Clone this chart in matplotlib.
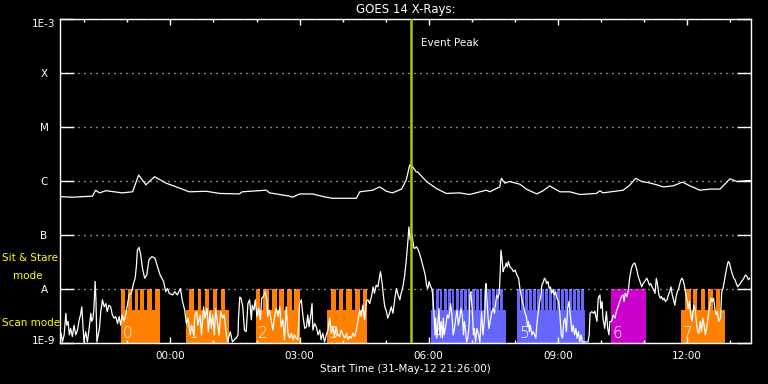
import matplotlib.pyplot as plt
import numpy as np
from matplotlib.ticker import MultipleLocator, FuncFormatter, NullLocator
from matplotlib.transforms import ScaledTranslation

# time axis: hours from 01-Jun-12 00:00, plot starts 31-May-12 21:26
t_start = -(2 + 34 / 60)
t_end = 13.49

# GOES 14 long channel (1-8 A), log10 flux W/m^2
long_t = [-2.57, -2.28, -1.81, -1.74, -1.65, -1.50, -1.12, -0.88, -0.74, -0.57,
          -0.37, -0.10, 0.44, 0.83, 1.14, 1.60, 1.67, 2.23, 2.30, 2.77,
          2.84, 3.00, 3.30, 3.62, 3.77, 4.32, 4.40, 4.70, 4.86, 5.02,
          5.16, 5.37, 5.48, 5.56, 5.63, 5.71, 5.74, 5.95, 6.18, 6.41,
          6.72, 6.95, 7.34, 7.42, 7.65, 7.69, 7.77, 7.88, 8.12, 8.27,
          8.51, 8.66, 8.81, 9.05, 9.28, 9.51, 9.90, 9.98, 10.05, 10.52,
          10.67, 10.81, 10.95, 11.10, 11.30, 11.45, 11.68, 11.90, 12.07, 12.30,
          12.54, 12.77, 13.00, 13.16, 13.47]
long_logflux = [-6.29, -6.30, -6.28, -6.17, -6.22, -6.18, -6.22, -6.20, -5.89, -6.07,
                -5.92, -6.04, -6.20, -6.19, -6.23, -6.24, -6.20, -6.17, -6.22, -6.28,
                -6.30, -6.24, -6.24, -6.30, -6.32, -6.32, -6.20, -6.17, -6.11, -6.19,
                -6.22, -6.15, -5.98, -5.70, -5.74, -5.83, -5.83, -6.01, -6.14, -6.23,
                -6.22, -6.25, -6.17, -6.20, -6.11, -5.95, -6.04, -6.01, -6.06, -6.15,
                -6.24, -6.18, -6.09, -6.20, -6.20, -6.25, -6.23, -6.18, -6.22, -6.17,
                -6.08, -5.95, -6.01, -6.03, -6.07, -6.11, -6.09, -6.02, -6.09, -6.17,
                -6.15, -6.15, -5.96, -6.01, -5.99]

# GOES 14 short channel (0.5-4 A), log10 flux W/m^2
short_t = [
    -2.57, -2.54, -2.51, -2.47, -2.43, -2.41, -2.38, -2.35, -2.32, -2.28,
    -2.24, -2.20, -2.16, -2.12, -2.09, -2.06, -2.04, -2.01, -1.97, -1.93,
    -1.89, -1.85, -1.83, -1.80, -1.78, -1.75, -1.73, -1.71, -1.68, -1.65,
    -1.62, -1.58, -1.54, -1.50, -1.47, -1.43, -1.39, -1.35, -1.31, -1.27,
    -1.23, -1.19, -1.16, -1.12, -1.08, -1.04, -0.96, -0.91, -0.86, -0.82,
    -0.79, -0.77, -0.73, -0.69, -0.65, -0.60, -0.55, -0.50, -0.43, -0.36,
    -0.30, -0.24, -0.16, -0.11, -0.07, -0.03, 0.05, 0.10, 0.16, 0.23,
    0.28, 0.33, 0.37, 0.41, 0.46, 0.49, 0.54, 0.57, 0.61, 0.64,
    0.69, 0.72, 0.77, 0.80, 0.85, 0.88, 0.92, 0.95, 0.98, 1.02,
    1.05, 1.09, 1.13, 1.17, 1.21, 1.25, 1.29, 1.33, 1.39, 1.44,
    1.52,
    1.53, 1.57, 1.58, 1.61, 1.64, 1.68, 1.72, 1.76, 1.80, 1.84,
    1.88, 1.90, 1.94, 1.97, 2.01, 2.05, 2.09, 2.12, 2.16, 2.20,
    2.24, 2.26, 2.30, 2.34, 2.38, 2.42, 2.46, 2.50, 2.54, 2.57,
    2.61, 2.65, 2.69, 2.73, 2.77, 2.81, 2.85, 2.88, 2.92, 2.96,
    3.00, 3.04, 3.08, 3.12, 3.16, 3.19, 3.22, 3.26, 3.29, 3.31,
    3.35, 3.39, 3.43, 3.47, 3.50, 3.54, 3.58, 3.62, 3.66, 3.70,
    3.74, 3.78, 3.81, 3.85, 3.89, 3.93, 3.97, 4.01, 4.05, 4.09,
    4.12, 4.16, 4.20, 4.24, 4.28, 4.32, 4.36, 4.40, 4.43, 4.47,
    4.51, 4.55, 4.59, 4.63, 4.67, 4.71, 4.74, 4.78, 4.82, 4.86,
    4.88, 4.92, 4.95, 4.98, 5.02, 5.05, 5.09, 5.13, 5.17, 5.21,
    5.25, 5.29, 5.33, 5.36, 5.40, 5.44, 5.48, 5.52, 5.54, 5.57,
    5.61, 5.65,
    5.67, 5.72, 5.76, 5.82, 5.88, 5.92, 5.95, 5.98, 6.01, 6.03,
    6.07, 6.09, 6.12, 6.15, 6.16, 6.19, 6.21, 6.24, 6.26, 6.29,
    6.32, 6.34, 6.36, 6.40, 6.43, 6.46, 6.49, 6.51, 6.54, 6.57,
    6.60, 6.63, 6.66, 6.69, 6.72, 6.75, 6.78, 6.81, 6.83, 6.86,
    6.88, 6.91, 6.94, 6.96, 6.98, 7.02, 7.04, 7.06, 7.09, 7.12,
    7.16, 7.19, 7.23, 7.26, 7.30, 7.33, 7.35, 7.37, 7.40, 7.43,
    7.47, 7.50, 7.53, 7.56, 7.58, 7.61, 7.64, 7.66, 7.68, 7.71,
    7.73, 7.75, 7.78, 7.80, 7.83, 7.85, 7.89, 7.93, 7.97, 8.01,
    8.05, 8.09, 8.12, 8.16, 8.20, 8.24, 8.27, 8.30, 8.32, 8.34,
    8.36, 8.40, 8.43, 8.46, 8.49, 8.52, 8.55, 8.58, 8.61, 8.63,
    8.67, 8.69, 8.72, 8.74, 8.77, 8.80, 8.83, 8.86, 8.89, 8.92,
    8.95, 8.98, 9.02, 9.05, 9.08, 9.11, 9.14, 9.17, 9.20, 9.23,
    9.26, 9.30, 9.33, 9.36, 9.39, 9.42, 9.45, 9.48, 9.51, 9.54,
    9.57, 9.64, 9.70, 9.73, 9.75, 9.79,
    9.84, 9.86, 9.91, 9.94, 9.98, 10.00, 10.03, 10.05, 10.09, 10.13,
    10.16, 10.19, 10.21, 10.25, 10.29, 10.33, 10.36, 10.40, 10.44, 10.48,
    10.52, 10.54, 10.57, 10.61, 10.64, 10.67, 10.71, 10.75, 10.79, 10.83,
    10.87, 10.91, 10.95, 10.98, 11.02, 11.07, 11.10, 11.13, 11.16, 11.19,
    11.23, 11.26, 11.29, 11.32, 11.35, 11.38, 11.41, 11.44, 11.47, 11.50,
    11.54, 11.57, 11.60, 11.63, 11.66, 11.69, 11.72, 11.75, 11.78, 11.81,
    11.85, 11.88, 11.91, 11.94, 11.97, 12.00, 12.03, 12.06, 12.09, 12.12,
    12.16, 12.19, 12.22, 12.25, 12.28, 12.31, 12.34, 12.37, 12.40, 12.43,
    12.47, 12.50, 12.53, 12.56, 12.59, 12.62, 12.65, 12.68, 12.71, 12.74,
    12.78, 12.81, 12.84, 12.87, 12.90, 12.93, 12.96, 12.99, 13.02, 13.05,
    13.09, 13.12, 13.15, 13.18, 13.21, 13.24, 13.27, 13.30, 13.33, 13.36,
    13.40, 13.43, 13.46]
short_logflux = [
    -8.98, -8.82, -8.98, -8.85, -8.45, -8.67, -8.60, -8.85, -8.73, -8.88,
    -8.67, -8.85, -8.76, -8.57, -8.48, -8.33, -8.60, -8.98, -8.79, -8.98,
    -8.73, -8.45, -8.60, -8.54, -8.39, -7.86, -8.23, -8.98, -8.85, -8.73,
    -8.42, -8.20, -8.33, -8.27, -8.42, -8.30, -8.33, -8.48, -8.54, -8.51,
    -8.64, -8.51, -8.67, -8.48, -8.60, -8.48, -8.11, -8.08, -7.90, -7.80,
    -7.56, -7.28, -7.23, -7.37, -7.62, -7.80, -7.74, -7.46, -7.40, -7.43,
    -7.59, -7.74, -7.86, -8.05, -7.99, -8.08, -8.11, -8.05, -8.11, -7.99,
    -8.23, -8.39, -8.64, -8.54, -8.85, -8.67, -8.85, -8.48, -8.42, -8.67,
    -8.48, -8.85, -8.33, -8.54, -8.36, -8.79, -8.42, -8.73, -8.48, -8.85,
    -8.36, -8.60, -8.85, -8.42, -8.54, -8.48, -8.79, -8.98, -8.79, -8.98,
    -8.91,
    -8.91, -8.85, -8.57, -8.15, -8.17, -8.33, -8.76, -8.79, -8.27, -8.20,
    -8.57, -8.30, -8.39, -8.20, -8.51, -8.36, -8.57, -8.17, -8.14, -8.05,
    -8.20, -8.51, -8.39, -8.57, -8.76, -8.51, -8.36, -8.51, -8.33, -8.70,
    -8.57, -8.94, -8.33, -8.82, -8.91, -8.82, -8.94, -8.85, -8.91, -8.94,
    -8.27, -8.20, -8.51, -8.73, -8.70, -8.48, -8.70, -8.48, -8.27, -8.76,
    -8.64, -8.70, -8.85, -8.76, -8.94, -8.82, -8.98, -8.85, -8.76, -8.54,
    -8.82, -8.70, -8.88, -8.70, -8.85, -8.88, -8.76, -8.85, -8.91, -8.82,
    -8.94, -8.88, -8.91, -8.82, -8.88, -8.76, -8.57, -8.39, -8.51, -8.30,
    -8.57, -8.23, -8.20, -8.27, -8.14, -7.96, -8.08, -7.93, -7.96, -7.77,
    -7.68, -7.90, -8.14, -8.33, -8.42, -8.54, -8.45, -8.33, -8.45, -8.20,
    -7.99, -8.11, -8.20, -8.08, -7.96, -7.77, -7.46, -7.09, -6.85, -7.09,
    -6.97, -7.22,
    -7.25, -7.22, -7.28, -7.43, -7.62, -7.74, -7.93, -7.99, -7.86, -7.93,
    -7.99, -8.08, -8.42, -8.85, -8.54, -8.91, -8.67, -8.36, -8.85, -8.60,
    -8.91, -8.54, -8.85, -8.67, -8.48, -8.54, -8.42, -8.27, -8.48, -8.85,
    -8.73, -8.54, -8.39, -8.67, -8.54, -8.36, -8.48, -8.85, -8.60, -8.79,
    -8.98, -8.91, -8.67, -8.11, -8.05, -8.48, -8.85, -8.73, -8.98, -8.73,
    -8.85, -8.98, -8.42, -8.85, -8.54, -7.90, -8.05, -8.42, -8.73, -8.60,
    -8.42, -8.36, -8.45, -8.23, -8.11, -8.17, -8.08, -7.74, -7.28, -7.49,
    -7.68, -7.62, -7.59, -7.52, -7.59, -7.49, -7.59, -7.62, -7.68, -7.65,
    -7.74, -7.80, -7.99, -8.17, -8.30, -8.45, -8.51, -8.70, -8.60, -8.79,
    -8.67, -8.85, -8.79, -8.85, -8.91, -8.60, -8.42, -8.23, -8.11, -7.93,
    -7.86, -7.80, -7.83, -7.90, -7.86, -7.99, -7.96, -8.08, -8.02, -8.11,
    -8.05, -8.17, -8.23, -8.48, -8.85, -8.91, -8.60, -8.54, -8.79, -8.36,
    -8.23, -8.54, -8.79, -8.67, -8.85, -8.73, -8.91, -8.79, -8.98, -8.85,
    -8.98, -8.98, -8.98, -8.85, -8.45, -8.42,
    -8.45, -8.41, -8.60, -8.17, -8.11, -8.36, -8.23, -8.54, -8.73, -8.42,
    -8.73, -8.85, -8.60, -8.60, -8.48, -8.54, -8.42, -8.33, -8.23, -8.14,
    -8.11, -8.23, -8.08, -8.14, -8.02, -7.80, -7.62, -7.54, -7.52, -7.62,
    -7.77, -7.86, -7.96, -7.90, -7.86, -7.80, -7.86, -7.93, -7.90, -7.96,
    -8.02, -8.08, -7.80, -7.93, -8.11, -8.17, -8.14, -8.20, -8.17, -8.23,
    -8.20, -8.11, -8.05, -7.96, -8.11, -8.20, -8.30, -8.14, -8.05, -7.99,
    -7.86, -7.80, -7.83, -7.93, -8.08, -8.20, -8.36, -8.23, -8.48, -8.60,
    -8.30, -8.36, -8.60, -8.79, -8.82, -8.60, -8.79, -8.54, -8.67, -8.85,
    -8.67, -8.48, -8.30, -8.17, -8.23, -8.17, -8.36, -8.48, -8.42, -8.60,
    -8.54, -8.05, -7.99, -7.86, -7.71, -7.59, -7.49, -7.52, -7.62, -7.71,
    -7.80, -7.83, -7.90, -7.96, -7.93, -7.90, -7.86, -7.83, -7.79, -7.74,
    -7.77, -7.83, -7.80]

event_peak = 5.58

# observing blocks: scan window plus sit & stare rasters inside it
orange, blue, magenta = '#ff8000', '#6666ff', '#cc00cc'
block_labels = ['0', '1', '2', '3', '4', '5', '6', '7']
block_colors = [orange, orange, orange, orange, blue, blue, magenta, orange]
block_start = [-1.16, 0.36, 1.98, 3.63, 6.05, 8.05, 10.23, 11.86]
block_end = [-0.24, 1.37, 3.00, 4.56, 7.79, 9.63, 11.05, 12.88]
stare_windows = [
    [(-1.16, -1.05), (-0.98, -0.89), (-0.83, -0.75), (-0.71, -0.61), (-0.55, -0.44), (-0.36, -0.24)],
    [(0.44, 0.55), (0.63, 0.72), (0.80, 0.90), (0.98, 1.08), (1.17, 1.27)],
    [(1.98, 2.09), (2.16, 2.28), (2.35, 2.47), (2.53, 2.64), (2.71, 2.82), (2.88, 3.00)],
    [(3.72, 3.84), (3.91, 4.02), (4.09, 4.21), (4.28, 4.40), (4.47, 4.56)],
    [(6.07, 6.13), (6.16, 6.23), (6.26, 6.32), (6.35, 6.42), (6.44, 6.51), (6.54, 6.60),
     (6.63, 6.70), (6.72, 6.79), (6.81, 6.88), (6.91, 6.97), (7.00, 7.07), (7.09, 7.16),
     (7.19, 7.25), (7.28, 7.35), (7.37, 7.44), (7.47, 7.53), (7.56, 7.63), (7.65, 7.72)],
    [(8.05, 8.12), (8.15, 8.21), (8.24, 8.31), (8.33, 8.40), (8.43, 8.49), (8.52, 8.58),
     (8.61, 8.68), (8.70, 8.77), (8.80, 8.86), (8.89, 8.96), (8.98, 9.05), (9.08, 9.14),
     (9.17, 9.24), (9.26, 9.33), (9.36, 9.42), (9.45, 9.52), (9.54, 9.61)],
    [(10.23, 11.05)],
    [(11.95, 12.09), (12.15, 12.24), (12.32, 12.41), (12.49, 12.60), (12.67, 12.78)],
]
floor, scan_top, stare_top = 1e-9, 4.1e-9, 1e-8

fig = plt.figure(figsize=(7.68, 3.84), dpi=100, facecolor='black')
ax = fig.add_axes([60 / 768, 41 / 384, 691 / 768, 324 / 384], facecolor='black')

for lab, col, s, e, wins in zip(block_labels, block_colors, block_start, block_end, stare_windows):
    ax.bar(s, scan_top - floor, width=e - s, bottom=floor, align='edge', color=col, lw=0, zorder=1)
    for ws, we in wins:
        ax.bar(ws, stare_top - floor, width=we - ws, bottom=floor, align='edge', color=col, lw=0, zorder=1)
    ax.annotate(lab, xy=(s, floor), xytext=(1.5, 3.8), textcoords='offset points',
                color='white', fontsize=11, fontweight='light', ha='left', va='baseline', zorder=2)

ax.plot(long_t, 10 ** np.array(long_logflux), color='white', lw=0.9, zorder=3)
ax.plot(short_t, 10 ** np.array(short_logflux), color='white', lw=0.9, zorder=3)

ax.axvline(event_peak, color='#a0d000', lw=1.8, zorder=4)
ax.annotate('Event Peak', xy=(event_peak, 1), xycoords=('data', 'axes fraction'),
            xytext=(7.5, -17.5), textcoords='offset points',
            color='white', fontsize=7.5, ha='left', va='center')

ax.set_yscale('log')
ax.set_ylim(1e-9, 1e-3)
ax.set_xlim(t_start, t_end)
ax.set_yticks([1e-9, 1e-8, 1e-7, 1e-6, 1e-5, 1e-4, 1e-3],
              ['1E-9', 'A', 'B', 'C', 'M', 'X', '1E-3'])
ax.yaxis.set_minor_locator(NullLocator())
ax.tick_params(axis='y', which='major', direction='in', length=10, width=1,
               colors='white', right=True, pad=11.5, labelsize=7.5)
ylabels = ax.get_yticklabels()
plt.setp(ylabels, ha='center')
# end labels sit just inside the axis range
ylabels[0].set_transform(ylabels[0].get_transform() + ScaledTranslation(0, 3 / 100, fig.dpi_scale_trans))
ylabels[-1].set_transform(ylabels[-1].get_transform() + ScaledTranslation(0, -4 / 100, fig.dpi_scale_trans))
ax.grid(axis='y', color='white', linestyle=(0, (0.72, 3.6)), linewidth=1.0)

ax.xaxis.set_major_locator(MultipleLocator(3))
ax.xaxis.set_minor_locator(MultipleLocator(1))
ax.xaxis.set_major_formatter(FuncFormatter(lambda v, p: f'{int(round(v)) % 24:02d}:00'))
ax.tick_params(axis='x', which='major', direction='in', length=4.3, width=1,
               top=True, colors='white', labelsize=7.5, pad=6)
ax.tick_params(axis='x', which='minor', direction='in', length=2.2, width=1,
               top=True, colors='white')

for sp in ax.spines.values():
    sp.set_color('white')
    sp.set_linewidth(1)

ax.set_title('GOES 14 X-Rays:', color='white', fontsize=8.5, pad=4)
ax.set_xlabel('Start Time (31-May-12 21:26:00)', color='white', fontsize=7.5, labelpad=2)

fig.text(2 / 768, 1 - 258 / 384, 'Sit & Stare', color='yellow', fontsize=7.5, ha='left', va='center')
fig.text(13 / 768, 1 - 276 / 384, 'mode', color='yellow', fontsize=7.5, ha='left', va='center')
fig.text(2 / 768, 1 - 323.5 / 384, 'Scan mode', color='yellow', fontsize=7.5, ha='left', va='center')

fig.savefig('out.png', dpi=100, facecolor='black')
